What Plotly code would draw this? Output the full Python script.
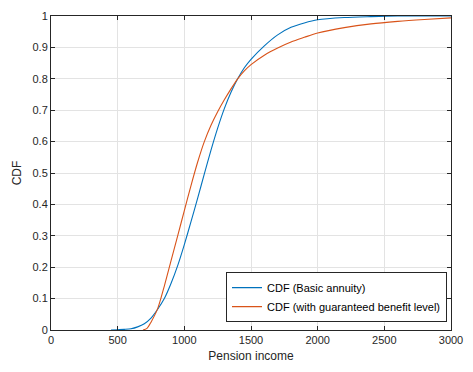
import plotly.graph_objects as go

# Basic annuity CDF
basic_x = [450, 500, 550, 600, 650, 700, 750, 800, 850, 900, 950, 1000, 1050, 1100, 1150,
           1200, 1250, 1300, 1350, 1400, 1450, 1500, 1600, 1700, 1800, 1900, 2000, 2200,
           2400, 2600, 3000]
basic_y = [0.0, 0.001, 0.002, 0.004, 0.010, 0.020, 0.038, 0.066, 0.10, 0.148, 0.205, 0.272,
           0.345, 0.42, 0.497, 0.573, 0.643, 0.705, 0.757, 0.80, 0.835, 0.862, 0.905, 0.94,
           0.964, 0.978, 0.988, 0.995, 0.998, 1.0, 1.0]

# With guaranteed benefit level CDF
guar_x = [690, 720, 750, 800, 850, 900, 950, 1000, 1050, 1100, 1150, 1200, 1250, 1300,
          1350, 1400, 1450, 1500, 1600, 1700, 1800, 1900, 2000, 2200, 2400, 2600, 2800, 3000]
guar_y = [0.0, 0.005, 0.025, 0.068, 0.14, 0.22, 0.30, 0.38, 0.46, 0.535, 0.60, 0.652,
          0.695, 0.733, 0.768, 0.80, 0.825, 0.845, 0.875, 0.898, 0.917, 0.932, 0.946,
          0.963, 0.975, 0.983, 0.989, 0.994]

x_ticks = [0, 500, 1000, 1500, 2000, 2500, 3000]
y_ticks = [0, 0.1, 0.2, 0.3, 0.4, 0.5, 0.6, 0.7, 0.8, 0.9, 1]
y_tick_text = ["0", "0.1", "0.2", "0.3", "0.4", "0.5", "0.6", "0.7", "0.8", "0.9", "1"]

FONT = "Liberation Sans, Arial, sans-serif"

fig = go.Figure()
fig.add_trace(go.Scatter(x=basic_x, y=basic_y, mode="lines", name="CDF (Basic annuity)",
                         line=dict(color="#0072BD", width=1.1, shape="spline", smoothing=0.8)))
fig.add_trace(go.Scatter(x=guar_x, y=guar_y, mode="lines",
                         name="CDF (with guaranteed benefit level)",
                         line=dict(color="#D95319", width=1.1, shape="spline", smoothing=0.8)))

axis_common = dict(
    showline=True, linecolor="#262626", linewidth=1, mirror="ticks",
    ticks="inside", ticklen=4, tickcolor="#262626", tickwidth=1,
    showgrid=True, gridcolor="#E3E3E3", gridwidth=1, zeroline=False,
    tickfont=dict(family=FONT, size=11, color="#262626"),
)

fig.update_xaxes(range=[0, 3000], tickvals=x_ticks,
                 title=dict(text="Pension income", standoff=6,
                            font=dict(family=FONT, size=12, color="#262626")),
                 **axis_common)
fig.update_yaxes(range=[0, 1], tickvals=y_ticks, ticktext=y_tick_text,
                 title=dict(text="CDF", standoff=8,
                            font=dict(family=FONT, size=12, color="#262626")),
                 **axis_common)

fig.update_layout(
    width=473, height=372,
    margin=dict(l=51, r=14, t=10, b=42),
    paper_bgcolor="white", plot_bgcolor="white",
    showlegend=True,
    legend=dict(x=0.99, y=0.025, xanchor="right", yanchor="bottom",
                bgcolor="white", bordercolor="#262626", borderwidth=1,
                font=dict(family=FONT, size=11, color="#000000"),
                tracegroupgap=0, itemwidth=30),
)

fig.write_html("out.html")
